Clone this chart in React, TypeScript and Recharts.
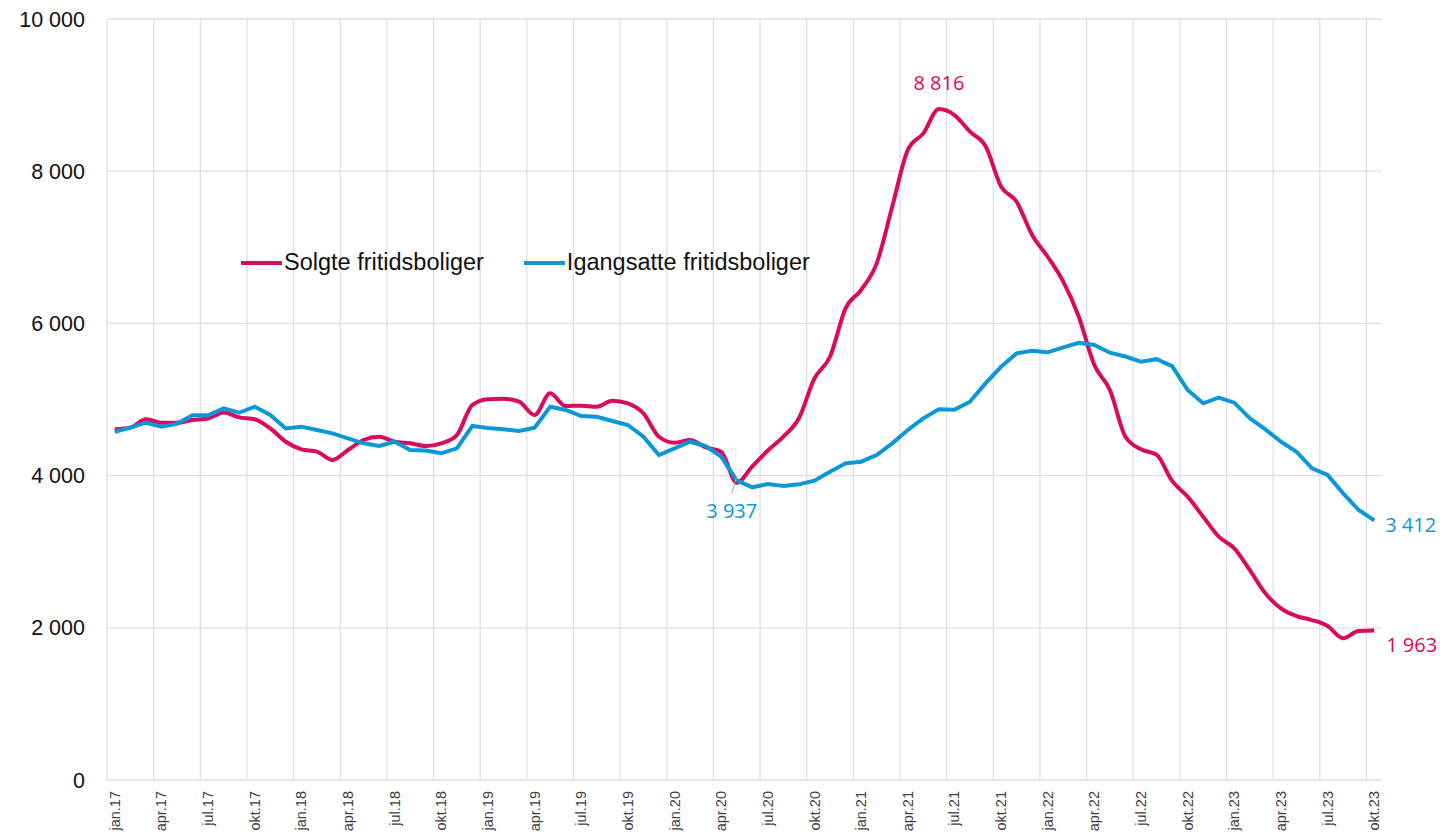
import React from "react"
import {
  LineChart,
  Line,
  XAxis,
  YAxis,
  CartesianGrid,
  ReferenceLine,
  Legend,
  LabelList,
} from "recharts"

// Solgte fritidsboliger, monthly jan.17 - okt.23
const sold = [
  4610, 4630, 4740, 4695, 4695, 4730, 4750, 4830, 4765, 4740, 4620, 4445,
  4345, 4315, 4205, 4336, 4468, 4511, 4445, 4424, 4389, 4424, 4533, 4928,
  5004, 5010, 4971, 4796, 5081, 4914, 4919, 4905, 4985, 4950, 4818, 4511,
  4432, 4468, 4371, 4315, 3907, 4120, 4330, 4511, 4753, 5278, 5562, 6198,
  6439, 6789, 7533, 8278, 8497, 8816, 8738, 8519, 8331, 7800, 7599, 7161,
  6876, 6548, 6088, 5453, 5125, 4511, 4345, 4275, 3930, 3723, 3460, 3197,
  3044, 2759, 2453, 2256, 2155, 2102, 2024, 1862, 1958, 1963,
]

// Igangsatte fritidsboliger
const started = [
  4577, 4630, 4695, 4643, 4680, 4792, 4792, 4884, 4826, 4905, 4796, 4620,
  4643, 4599, 4555, 4490, 4424, 4389, 4445, 4336, 4330, 4293, 4358, 4652,
  4625, 4608, 4586, 4630, 4905, 4862, 4783, 4774, 4717, 4665, 4511, 4271,
  4358, 4445, 4389, 4249, 3937, 3846, 3889, 3863, 3885, 3933, 4051, 4161,
  4183, 4271, 4424, 4599, 4753, 4871, 4866, 4971, 5212, 5430, 5606, 5641,
  5620, 5685, 5746, 5716, 5615, 5565, 5497, 5530, 5438, 5125, 4950, 5024,
  4958, 4753, 4608, 4445, 4314, 4096, 4008, 3767, 3548, 3412,
]

const tickLabels = [
  "jan.17", "apr.17", "jul.17", "okt.17",
  "jan.18", "apr.18", "jul.18", "okt.18",
  "jan.19", "apr.19", "jul.19", "okt.19",
  "jan.20", "apr.20", "jul.20", "okt.20",
  "jan.21", "apr.21", "jul.21", "okt.21",
  "jan.22", "apr.22", "jul.22", "okt.22",
  "jan.23", "apr.23", "jul.23", "okt.23",
]

const yTicks = [0, 2000, 4000, 6000, 8000, 10000]

const RED = "#D80B5C"
const BLUE = "#0C97D8"
const GRID = "#DCE0E6"
const LABEL_FONT = "'Open Sans', 'Noto Sans', sans-serif"
const AXIS_FONT = "'Liberation Sans', Arial, sans-serif"

// each month sits in the middle of its slot, grid lines on slot edges
const data = sold.map((v, i) => ({ x: i + 0.5, sold: v, started: started[i] }))
const xTicks = tickLabels.map((_, k) => k * 3 + 0.5)
const gridX = tickLabels.map((_, k) => k * 3)
const last = sold.length - 1

const fmt = (n: number) => String(n).replace(/\B(?=(\d{3})+(?!\d))/g, " ")

const XTick = ({ x, y, payload }: any) => {
  const label = tickLabels[Math.round((payload.value - 0.5) / 3)]
  return (
    <text
      x={x}
      y={y}
      transform={`rotate(-90 ${x} ${y})`}
      textAnchor="end"
      dy="0.35em"
      fontSize={14.5}
      fontFamily={AXIS_FONT}
      fill="#404040"
    >
      {label}
    </text>
  )
}

const soldLabel = (props: any) => {
  const { x, y, index, value } = props
  if (index === 53) {
    return (
      <text x={x} y={y - 27} textAnchor="middle" dominantBaseline="central"
        fontSize={20} fontFamily={LABEL_FONT} fill={RED}>
        {fmt(value)}
      </text>
    )
  }
  if (index === last) {
    return (
      <text x={x + 12} y={y + 14} dominantBaseline="central"
        fontSize={20} fontFamily={LABEL_FONT} fill={RED}>
        {fmt(value)}
      </text>
    )
  }
  return null
}

const startedLabel = (props: any) => {
  const { x, y, index, value } = props
  if (index === 40) {
    return (
      <g>
        <line x1={x} y1={y - 4} x2={x - 5} y2={y + 13} stroke="#A6A6A6" strokeWidth={1} />
        <text x={x - 5} y={y + 30} textAnchor="middle" dominantBaseline="central"
          fontSize={20} fontFamily={LABEL_FONT} fill={BLUE}>
          {fmt(value)}
        </text>
      </g>
    )
  }
  if (index === last) {
    return (
      <text x={x + 11} y={y + 4} dominantBaseline="central"
        fontSize={20} fontFamily={LABEL_FONT} fill={BLUE}>
        {fmt(value)}
      </text>
    )
  }
  return null
}

const legendItems = [
  { name: "Solgte fritidsboliger", color: RED },
  { name: "Igangsatte fritidsboliger", color: BLUE },
]

const ChartLegend = () => (
  <div style={{ display: "flex", alignItems: "center", fontFamily: AXIS_FONT, fontSize: 23.5, color: "#111", whiteSpace: "nowrap" }}>
    {legendItems.map((item, i) => (
      <div key={item.name} style={{ display: "flex", alignItems: "center", marginRight: i === 0 ? 40 : 0 }}>
        <div style={{ width: 41, height: 4, background: item.color, marginRight: 2 }} />
        <span>{item.name}</span>
      </div>
    ))}
  </div>
)

export default function App() {
  return (
    <div style={{ position: "absolute", left: 0, top: 0, width: 1440, height: 834, background: "#fff" }}>
      <LineChart
        width={1440}
        height={834}
        data={data}
        margin={{ top: 19, right: 58, left: 0, bottom: 0 }}
      >
        <CartesianGrid vertical={false} stroke={GRID} strokeWidth={1.3} />
        {gridX.map((g) => (
          <ReferenceLine key={g} x={g} stroke={GRID} strokeWidth={1.3} />
        ))}
        <XAxis
          type="number"
          dataKey="x"
          domain={[0, 82]}
          ticks={xTicks}
          interval={0}
          tick={<XTick />}
          tickLine={false}
          axisLine={false}
          tickSize={0}
          tickMargin={11}
          height={54}
        />
        <YAxis
          domain={[0, 10000]}
          ticks={yTicks}
          tickFormatter={fmt}
          tickLine={false}
          axisLine={false}
          tickSize={0}
          tickMargin={22}
          width={107}
          tick={{ fontSize: 21.5, fontFamily: AXIS_FONT, fill: "#111" }}
        />
        <Legend
          layout="vertical"
          align="center"
          verticalAlign="middle"
          content={<ChartLegend />}
          wrapperStyle={{ top: 249, left: 241, width: "auto" }}
        />
        <Line
          type="monotone"
          dataKey="sold"
          name="Solgte fritidsboliger"
          stroke={RED}
          strokeWidth={4}
          dot={false}
          isAnimationActive={false}
        >
          <LabelList dataKey="sold" content={soldLabel} />
        </Line>
        <Line
          type="linear"
          dataKey="started"
          name="Igangsatte fritidsboliger"
          stroke={BLUE}
          strokeWidth={4}
          dot={false}
          isAnimationActive={false}
        >
          <LabelList dataKey="started" content={startedLabel} />
        </Line>
      </LineChart>
    </div>
  )
}
